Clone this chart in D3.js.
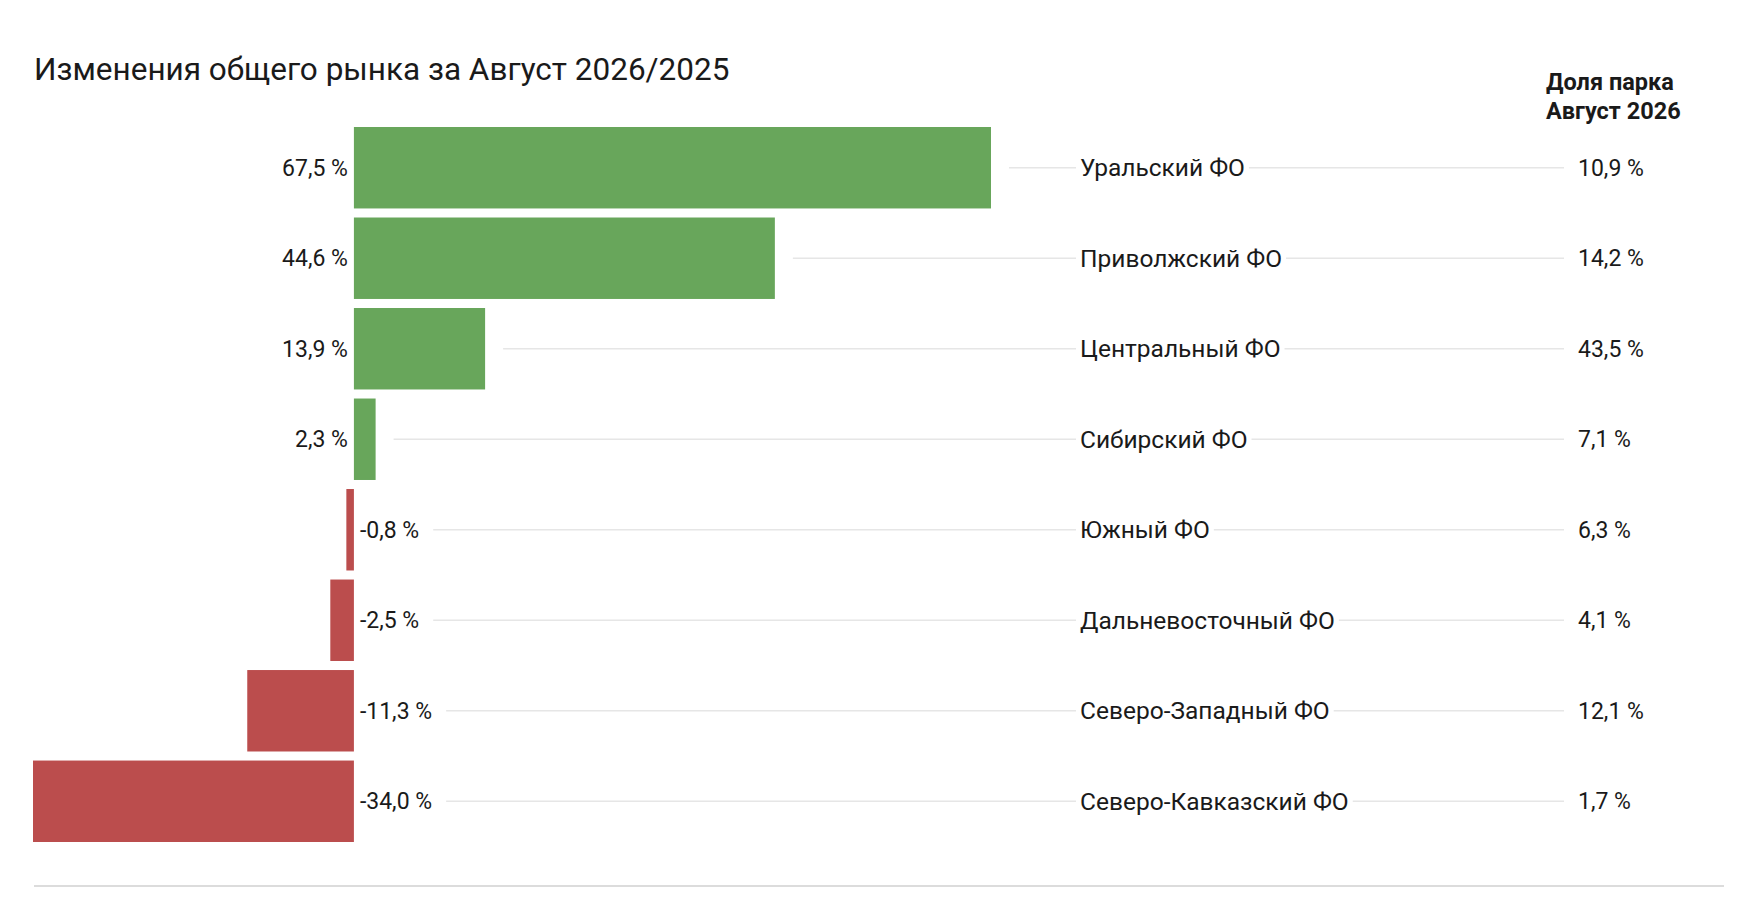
<!DOCTYPE html>
<html><head><meta charset="utf-8">
<script src="https://cdn.jsdelivr.net/npm/d3@7"></script>
<style>body{margin:0;background:#fff}text{font-family:Roboto,"Noto Sans",sans-serif;fill:#1a1a1a}</style>
</head><body><svg id="c" width="1758" height="898"></svg>
<script>
const categories=["Уральский ФО","Приволжский ФО","Центральный ФО","Сибирский ФО","Южный ФО","Дальневосточный ФО","Северо-Западный ФО","Северо-Кавказский ФО"];
const changes=[67.5,44.6,13.9,2.3,-0.8,-2.5,-11.3,-34.0];
const shares=[10.9,14.2,43.5,7.1,6.3,4.1,12.1,1.7];
const title="Изменения общего рынка за Август 2026/2025";
const header=["Доля парка","Август 2026"];
const fmt=v=>v.toFixed(1).replace(".",",")+" %";

const svg=d3.select("#c");
const x=d3.scaleLinear().domain([-34,67.5]).range([33,991]);
const y=d3.scaleBand().domain(categories).range([127,842]).paddingInner(0.1);
const data=categories.map((c,i)=>({c,v:changes[i],s:shares[i]}));

svg.append("text").attr("x",34).attr("y",80).attr("font-size",31.5).text(title);
svg.append("text").attr("x",1546).attr("y",90).attr("font-size",23.5).attr("font-weight",700).text(header[0]);
svg.append("text").attr("x",1546).attr("y",119).attr("font-size",23.5).attr("font-weight",700).text(header[1]);

const row=svg.selectAll("g.r").data(data).join("g").attr("class","r");
const cy=d=>y(d.c)+y.bandwidth()/2;
const grid=row.append("line").attr("y1",cy).attr("y2",cy).attr("x2",1564).attr("stroke","#e6e6e6").attr("stroke-width",1.5);
row.append("rect").attr("x",d=>x(Math.min(0,d.v))).attr("width",d=>Math.abs(x(d.v)-x(0)))
  .attr("y",d=>y(d.c)).attr("height",y.bandwidth()).attr("fill",d=>d.v>=0?"#68a65b":"#bb4d4d");
const vl=row.append("text").attr("y",cy).attr("dy","0.35em").attr("font-size",23)
  .attr("x",d=>d.v>=0?x(0)-6:x(0)+6).attr("text-anchor",d=>d.v>=0?"end":"start").text(d=>fmt(d.v));
grid.attr("x1",function(d,i){return d.v>=0?x(d.v)+18:x(0)+6+vl.nodes()[i].getComputedTextLength()+14;});
row.append("rect").attr("class","bg");
const cl=row.append("text").attr("x",1080).attr("y",cy).attr("dy","0.35em").attr("font-size",24.5).text(d=>d.c);
row.select("rect.bg").each(function(d,i){const b=cl.nodes()[i].getBBox();d3.select(this).attr("x",b.x-4).attr("y",b.y).attr("width",b.width+8).attr("height",b.height).attr("fill","#fff");});
row.append("rect").attr("x",1568).attr("y",d=>cy(d)-15).attr("width",90).attr("height",30).attr("fill","#fff");
row.append("text").attr("x",1578).attr("y",cy).attr("dy","0.35em").attr("font-size",23).text(d=>fmt(d.s));
svg.append("line").attr("x1",34).attr("x2",1724).attr("y1",886).attr("y2",886).attr("stroke","#dcdcdc").attr("stroke-width",2);
</script></body></html>
